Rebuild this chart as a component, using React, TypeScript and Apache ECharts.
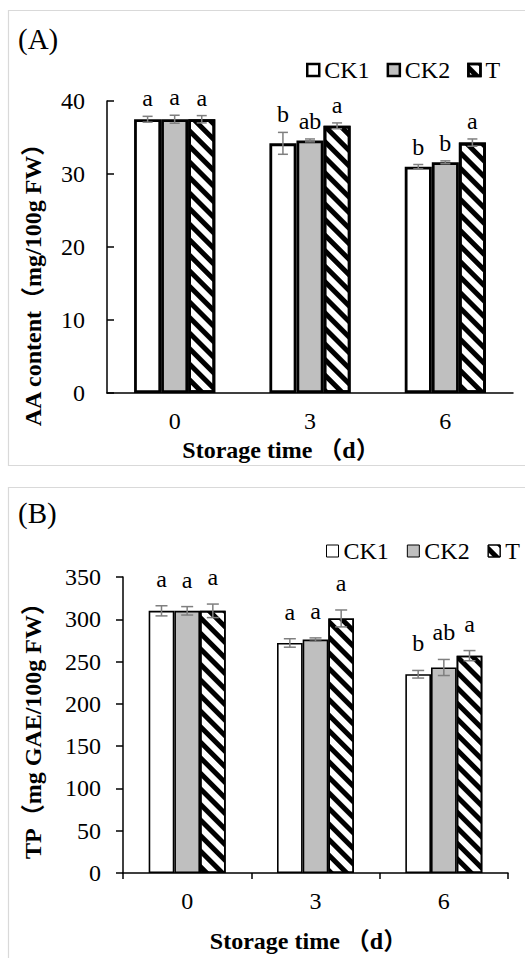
import React, { useEffect, useRef } from 'react';
import * as echarts from 'echarts';

// ---------- data ----------
const categories = ['0', '3', '6'];
const seriesNames = ['CK1', 'CK2', 'T'];

// Panel A: AA content (mg/100g FW)
const aaCK1 = [37.5, 34.2, 31.0];
const aaCK2 = [37.5, 34.6, 31.6];
const aaT = [37.5, 36.6, 34.3];
const aaErrCK1 = [0.4, 1.5, 0.3];
const aaErrCK2 = [0.55, 0.2, 0.2];
const aaErrT = [0.5, 0.4, 0.5];
const aaLetterCK1 = ['a', 'b', 'b'];
const aaLetterCK2 = ['a', 'ab', 'b'];
const aaLetterT = ['a', 'a', 'a'];
const aaAxisMax = 40;
const aaAxisStep = 10;

// Panel B: TP (mg GAE/100g FW)
const tpCK1 = [310, 272, 235];
const tpCK2 = [310, 276, 243];
const tpT = [310, 301, 257];
const tpErrCK1 = [6, 5, 4.5];
const tpErrCK2 = [5, 2, 9.5];
const tpErrT = [8, 10, 6];
const tpLetterCK1 = ['a', 'a', 'b'];
const tpLetterCK2 = ['a', 'a', 'ab'];
const tpLetterT = ['a', 'a', 'a'];
const tpAxisMax = 350;
const tpAxisStep = 50;

const SERIF = "'Liberation Serif', 'Noto Sans CJK SC', serif";
const FILLS = ['#ffffff', '#bfbfbf', '#ffffff'];

type Panel = {
  label: string;
  values: number[][];
  errs: number[][];
  letters: string[][];
  max: number;
  step: number;
  yName: string;
  xName: string;
  grid: { left: number; right: number; top: number; bottom: number };
  yTickInside: boolean;
  xTicks: boolean;
  barBorder: number;
  legendBorder: number;
  legendLeft: number;
  legendTop: number;
  legendGap: number;
  letterGap: number;
  cap: number;
  yNameGap: number;
  yNamePad: number[];
  xNameGap: number;
  xNamePad: number[];
  yLabelMargin: number;
  frameTop: number;
  frameH: number;
  labelY: number;
};

const panelA: Panel = {
  label: '(A)',
  values: [aaCK1, aaCK2, aaT],
  errs: [aaErrCK1, aaErrCK2, aaErrT],
  letters: [aaLetterCK1, aaLetterCK2, aaLetterT],
  max: aaAxisMax,
  step: aaAxisStep,
  yName: 'AA content（mg/100g FW）',
  xName: 'Storage time （d）',
  grid: { left: 107, right: 12, top: 101, bottom: 83 },
  yTickInside: true,
  xTicks: false,
  barBorder: 2.8,
  legendBorder: 2.5,
  legendLeft: 301,
  legendTop: 53,
  legendGap: 17,
  letterGap: 18,
  cap: 10,
  yNameGap: 62,
  yNamePad: [0, 64, 0, 0],
  xNameGap: 40,
  xNamePad: [0, 58, 0, 0],
  yLabelMargin: 22,
  frameTop: 10.5,
  frameH: 455,
  labelY: 39,
};

const panelB: Panel = {
  label: '(B)',
  values: [tpCK1, tpCK2, tpT],
  errs: [tpErrCK1, tpErrCK2, tpErrT],
  letters: [tpLetterCK1, tpLetterCK2, tpLetterT],
  max: tpAxisMax,
  step: tpAxisStep,
  yName: 'TP（mg GAE/100g FW）',
  xName: 'Storage time （d）',
  grid: { left: 123, right: 17, top: 101, bottom: 78 },
  yTickInside: false,
  xTicks: true,
  barBorder: 1.6,
  legendBorder: 1,
  legendLeft: 321,
  legendTop: 58,
  legendGap: 18,
  letterGap: 27,
  cap: 12,
  yNameGap: 78,
  yNamePad: [0, 0, 0, 0],
  xNameGap: 56,
  xNamePad: [0, 14, 0, 0],
  yLabelMargin: 22,
  frameTop: 11.5,
  frameH: 600,
  labelY: 37,
};

function makeOption(p: Panel) {
  const bars = seriesNames.map((n, k) => ({
    type: 'bar',
    name: n,
    data: p.values[k],
    barWidth: '20%',
    barGap: '0%',
    itemStyle: {
      color: FILLS[k],
      borderColor: '#000',
      borderWidth: p.barBorder,
      decal:
        k === 2
          ? {
              symbol: 'rect',
              symbolSize: 1,
              dashArrayX: [1, 0],
              dashArrayY: [4.5, 6],
              rotation: Math.PI / 4,
              color: '#000',
            }
          : 'none',
    },
    z: 2,
  }));

  const errSeries = seriesNames.map((n, k) => ({
    type: 'custom',
    name: n + ' error',
    data: p.values[k].map((v, i) => [i, v]),
    z: 10,
    silent: true,
    renderItem: (params: any, api: any) => {
      const i = params.dataIndex;
      const v = p.values[k][i];
      const e = p.errs[k][i];
      const band = api.size([1, 0])[0];
      const cx = api.coord([i, v])[0] + (k - 1) * 0.2 * band;
      const yTop = api.coord([i, v + e])[1];
      const yBot = api.coord([i, v - e])[1];
      const h = p.cap / 2;
      const st = { stroke: '#7f7f7f', lineWidth: 1.5 };
      return {
        type: 'group',
        children: [
          { type: 'line', shape: { x1: cx, y1: yTop, x2: cx, y2: yBot }, style: st },
          { type: 'line', shape: { x1: cx - h, y1: yTop, x2: cx + h, y2: yTop }, style: st },
          { type: 'line', shape: { x1: cx - h, y1: yBot, x2: cx + h, y2: yBot }, style: st },
          {
            type: 'text',
            x: cx,
            y: yTop - p.letterGap,
            style: {
              text: p.letters[k][i],
              fill: '#000',
              fontSize: 24,
              fontFamily: SERIF,
              align: 'center',
              verticalAlign: 'middle',
            },
          },
        ],
      };
    },
  }));

  return {
    animation: false,
    backgroundColor: '#ffffff',
    textStyle: { fontFamily: SERIF },
    graphic: [
      {
        type: 'rect',
        silent: true,
        shape: { x: 8.5, y: p.frameTop, width: 700, height: p.frameH },
        style: { fill: 'none', stroke: '#d9d9d9', lineWidth: 1.2 },
      },
      {
        type: 'text',
        x: 18,
        y: p.labelY,
        style: {
          text: p.label,
          fontSize: 29,
          fontFamily: SERIF,
          fill: '#000',
          verticalAlign: 'middle',
        },
      },
    ],
    legend: {
      data: seriesNames.map((n) => ({
        name: n,
        itemStyle: { borderWidth: p.legendBorder, borderColor: '#000' },
      })),
      left: p.legendLeft,
      top: p.legendTop,
      width: 300,
      orient: 'horizontal',
      icon: 'rect',
      itemWidth: 12,
      itemHeight: 12,
      itemGap: p.legendGap,
      selectedMode: false,
      textStyle: { fontSize: 24, fontFamily: SERIF, color: '#000' },
    },
    grid: { ...p.grid, containLabel: false },
    xAxis: {
      type: 'category',
      data: categories,
      axisLine: { lineStyle: { color: '#000', width: 1.5 } },
      axisTick: { show: p.xTicks, length: 6, lineStyle: { color: '#000', width: 1.5 } },
      axisLabel: { color: '#000', fontSize: 24, fontFamily: SERIF, margin: 16 },
      name: p.xName,
      nameLocation: 'middle',
      nameGap: p.xNameGap,
      nameTextStyle: {
        color: '#000',
        fontSize: 24,
        fontWeight: 'bold',
        fontFamily: SERIF,
        padding: p.xNamePad,
      },
    },
    yAxis: {
      type: 'value',
      min: 0,
      max: p.max,
      interval: p.step,
      axisLine: { show: true, lineStyle: { color: '#000', width: 1.5 } },
      axisTick: { show: true, inside: p.yTickInside, length: 7, lineStyle: { color: '#000', width: 1.5 } },
      splitLine: { show: false },
      axisLabel: { color: '#000', fontSize: 24, fontFamily: SERIF, margin: p.yLabelMargin },
      name: p.yName,
      nameLocation: 'middle',
      nameGap: p.yNameGap,
      nameTextStyle: {
        color: '#000',
        fontSize: 24,
        fontWeight: 'bold',
        fontFamily: SERIF,
        padding: p.yNamePad,
      },
    },
    series: [...bars, ...errSeries],
  };
}

function ChartPanel({ panel, top, height }: { panel: Panel; top: number; height: number }) {
  const ref = useRef<HTMLDivElement>(null);
  useEffect(() => {
    if (!ref.current) return;
    const chart = echarts.init(ref.current, undefined, { renderer: 'svg' });
    chart.setOption(makeOption(panel) as any);
    return () => chart.dispose();
  }, [panel]);
  return (
    <div
      ref={ref}
      style={{ position: 'absolute', left: 0, top, width: 525, height }}
    />
  );
}

export default function App() {
  return (
    <div style={{ position: 'absolute', left: 0, top: 0, width: 525, height: 958, background: '#fff', overflow: 'hidden' }}>
      <ChartPanel panel={panelA} top={0} height={476} />
      <ChartPanel panel={panelB} top={476} height={482} />
    </div>
  );
}
